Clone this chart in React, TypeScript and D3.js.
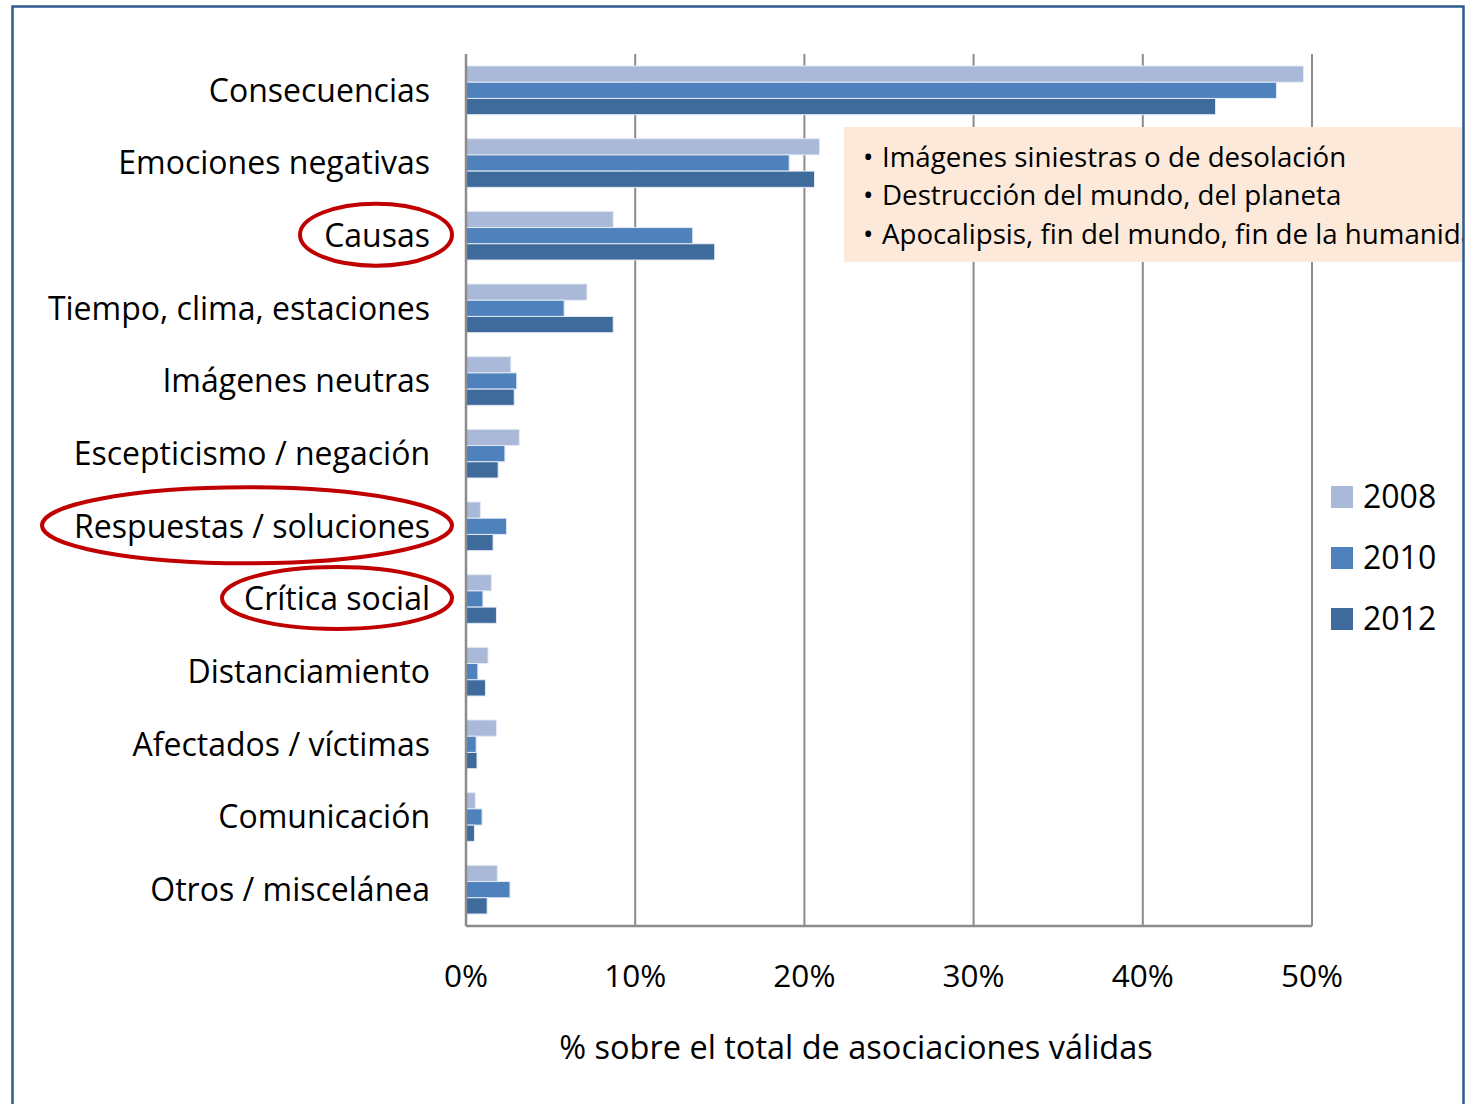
import { useEffect, useRef } from 'react';
import * as d3 from 'd3';

const categories = [
  'Consecuencias',
  'Emociones negativas',
  'Causas',
  'Tiempo, clima, estaciones',
  'Imágenes neutras',
  'Escepticismo / negación',
  'Respuestas / soluciones',
  'Crítica social',
  'Distanciamiento',
  'Afectados / víctimas',
  'Comunicación',
  'Otros / miscelánea',
];
const years = ['2008', '2010', '2012'];
const values2008 = [49.5, 20.9, 8.7, 7.15, 2.65, 3.15, 0.85, 1.5, 1.3, 1.8, 0.55, 1.85];
const values2010 = [47.9, 19.1, 13.4, 5.8, 3.0, 2.3, 2.4, 1.0, 0.7, 0.6, 0.95, 2.6];
const values2012 = [44.3, 20.6, 14.7, 8.7, 2.85, 1.9, 1.6, 1.8, 1.15, 0.65, 0.5, 1.25];
const xTicks = [0, 10, 20, 30, 40, 50];
const noteLines = [
  'Imágenes siniestras o de desolación',
  'Destrucción del mundo, del planeta',
  'Apocalipsis, fin del mundo, fin de la humanidad',
];
const circled = ['Causas', 'Respuestas / soluciones', 'Crítica social'];

const colors = ['#AAB9D7', '#4F81BD', '#3F6A9C'];

const App = () => {
  const ref = useRef<SVGSVGElement | null>(null);

  useEffect(() => {
    if (!ref.current) return;
    const width = 1466;
    const height = 1104;
    const svg = d3.select(ref.current);
    svg.selectAll('*').remove();
    svg.attr('width', width).attr('height', height);

    const font = '"Open Sans", Lato, sans-serif';
    const margin = { top: 54, left: 466, right: 154, bottom: 178 };
    const innerW = width - margin.left - margin.right;
    const innerH = height - margin.top - margin.bottom;

    svg.append('rect').attr('width', width).attr('height', height).attr('fill', '#fff');

    // clip everything to the inside of the frame
    svg.append('defs').append('clipPath').attr('id', 'frame-clip')
      .append('rect').attr('x', 13).attr('y', 7).attr('width', 1450).attr('height', height);

    const g = svg.append('g').attr('transform', `translate(${margin.left},${margin.top})`);

    const x = d3.scaleLinear().domain([0, 50]).range([0, innerW]);
    const y = d3.scaleBand().domain(categories).range([0, innerH]).paddingInner(0.33).paddingOuter(0.165);
    const ySub = d3.scaleBand().domain(years).range([0, y.bandwidth()]);

    // gridlines
    g.selectAll('.grid')
      .data(xTicks)
      .enter()
      .append('line')
      .attr('x1', d => x(d)).attr('x2', d => x(d))
      .attr('y1', 0).attr('y2', innerH)
      .attr('stroke', '#8C8C8C').attr('stroke-width', 2);

    const series = [values2008, values2010, values2012];
    years.forEach((yr, i) => {
      g.selectAll(`.bar-${yr}`)
        .data(categories)
        .enter()
        .append('rect')
        .attr('x', 0)
        .attr('y', c => (y(c) || 0) + (ySub(yr) || 0))
        .attr('width', (c, j) => x(series[i][j]))
        .attr('height', ySub.bandwidth())
        .attr('fill', colors[i])
        .attr('stroke', '#E3EAF4').attr('stroke-width', 1);
    });

    // axis lines
    g.append('line').attr('x1', 0).attr('x2', 0).attr('y1', 0).attr('y2', innerH)
      .attr('stroke', '#8C8C8C').attr('stroke-width', 2.5);
    g.append('line').attr('x1', 0).attr('x2', innerW).attr('y1', innerH).attr('y2', innerH)
      .attr('stroke', '#8C8C8C').attr('stroke-width', 2.5);

    // x tick labels
    g.selectAll('.xt')
      .data(xTicks)
      .enter()
      .append('text')
      .attr('x', d => x(d))
      .attr('y', innerH + 61)
      .attr('text-anchor', 'middle')
      .style('font-family', font).style('font-size', '31.5px').attr('fill', '#000')
      .text(d => `${d}%`);

    g.append('text')
      .attr('x', innerW / 2 - 33)
      .attr('y', innerH + 133)
      .attr('text-anchor', 'middle')
      .style('font-family', font).style('font-size', '32.5px').attr('fill', '#000')
      .text('% sobre el total de asociaciones válidas');

    // category labels
    g.selectAll('.cat')
      .data(categories)
      .enter()
      .append('text')
      .attr('x', -36)
      .attr('y', c => (y(c) || 0) + y.bandwidth() / 2)
      .attr('dy', '0.35em')
      .attr('text-anchor', 'end')
      .style('font-family', font).style('font-size', '32px').attr('fill', '#000')
      .text(c => c);

    // red ellipses around some labels
    const ellipseSpec: Record<string, { cx: number; rx: number; ry: number }> = {
      'Causas': { cx: 376, rx: 76, ry: 31 },
      'Respuestas / soluciones': { cx: 247, rx: 205, ry: 38 },
      'Crítica social': { cx: 337, rx: 115, ry: 31 },
    };
    circled.forEach(c => {
      const s = ellipseSpec[c];
      svg.append('ellipse')
        .attr('cx', s.cx)
        .attr('cy', margin.top + (y(c) || 0) + y.bandwidth() / 2 - 1)
        .attr('rx', s.rx).attr('ry', s.ry)
        .attr('fill', 'none').attr('stroke', '#C00000').attr('stroke-width', 4);
    });

    // annotation box
    const note = svg.append('g').attr('clip-path', 'url(#frame-clip)');
    note.append('rect')
      .attr('x', 844).attr('y', 127).attr('width', 625).attr('height', 135)
      .attr('fill', '#FDE9D9');
    noteLines.forEach((t, i) => {
      const ty = 157 + i * 38.5;
      note.append('text').attr('x', 863).attr('y', ty).attr('dy', '0.35em')
        .style('font-family', font).style('font-size', '27.7px').attr('fill', '#000').text('•');
      note.append('text').attr('x', 882).attr('y', ty).attr('dy', '0.35em')
        .style('font-family', font).style('font-size', '27.7px').attr('fill', '#000').text(t);
    });

    // outer frame
    svg.append('rect')
      .attr('x', 12.5).attr('y', 6.5)
      .attr('width', 1451).attr('height', 1110)
      .attr('fill', 'none').attr('stroke', '#2E5A8E').attr('stroke-width', 2.5);

    // legend
    const legend = svg.append('g').attr('transform', 'translate(1331,497)');
    years.forEach((yr, i) => {
      const row = legend.append('g').attr('transform', `translate(0,${i * 61})`);
      row.append('rect').attr('x', 0).attr('y', -11).attr('width', 22).attr('height', 22).attr('fill', colors[i]);
      row.append('text').attr('x', 32).attr('y', 0).attr('dy', '0.35em')
        .style('font-family', font).style('font-size', '32px').attr('fill', '#000').text(yr);
    });
  }, []);

  return (
    <svg ref={ref} style={{ position: 'absolute', left: 0, top: 0, display: 'block' }}></svg>
  );
};

export default App;
